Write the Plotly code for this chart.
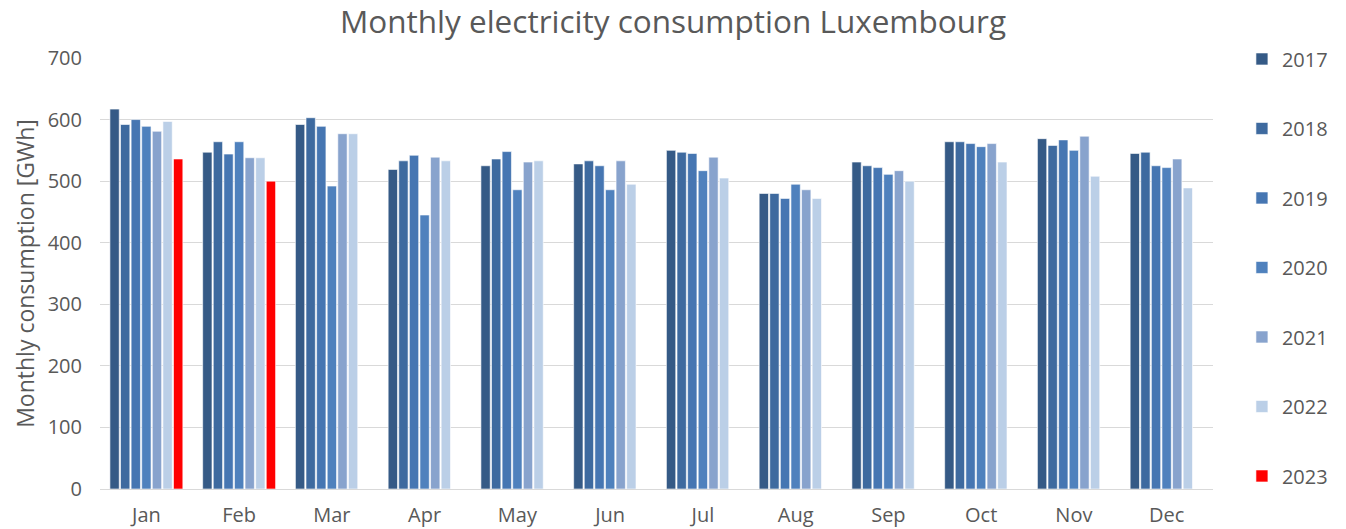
import plotly.graph_objects as go

months = ["Jan", "Feb", "Mar", "Apr", "May", "Jun", "Jul", "Aug", "Sep", "Oct", "Nov", "Dec"]
years = ["2017", "2018", "2019", "2020", "2021", "2022", "2023"]

v2017 = [617, 547, 592, 519, 525, 528, 550, 480, 531, 564, 569, 545]
v2018 = [592, 564, 603, 533, 536, 533, 547, 480, 525, 564, 558, 547]
v2019 = [600, 544, 589, 542, 548, 525, 545, 472, 522, 561, 567, 525]
v2020 = [589, 564, 492, 445, 486, 486, 517, 495, 511, 556, 550, 522]
v2021 = [581, 538, 577, 539, 531, 533, 539, 486, 517, 561, 573, 536]
v2022 = [597, 538, 577, 533, 533, 495, 505, 472, 500, 531, 508, 489]
v2023 = [536, 500, None, None, None, None, None, None, None, None, None, None]

series = [v2017, v2018, v2019, v2020, v2021, v2022, v2023]
colors = ["#355A86", "#3E6A9F", "#4676B2", "#4F81BD", "#88A3CD", "#BBCFE7", "#FF0000"]

W, H = 1346, 529

fig = go.Figure()
for i, (yr, vals) in enumerate(zip(years, series)):
    fig.add_trace(go.Bar(
        x=months, y=vals, name=yr, legendgroup=yr,
        marker=dict(color=colors[i], line=dict(color="rgba(255,255,255,0.6)", width=1)),
    ))

fig.update_layout(
    width=W, height=H,
    barmode="group", bargap=0.2, bargroupgap=0.12,
    plot_bgcolor="white", paper_bgcolor="white",
    font=dict(family="Open Sans, sans-serif", color="#595959", size=20),
    margin=dict(l=100, r=133, t=58, b=40, autoexpand=False),
    title=dict(text="Monthly electricity consumption Luxembourg", x=0.5, xref="container",
               xanchor="center", y=1 - 22 / H, yref="container", yanchor="middle",
               font=dict(size=31.5, color="#595959")),
    legend=dict(x=1.026, y=1.043, xanchor="left", yanchor="top", tracegroupgap=40.5,
                font=dict(size=20, color="#595959"), itemwidth=30, maxheight=520),
    showlegend=True,
)
fig.update_xaxes(showgrid=False, showline=False, ticks="outside", ticklen=8,
                 tickcolor="rgba(0,0,0,0)", tickfont=dict(size=20))
fig.update_yaxes(range=[0, 700], dtick=100, showgrid=True, gridcolor="#D9D9D9", gridwidth=1,
                 zeroline=True, zerolinecolor="#D9D9D9", zerolinewidth=1,
                 ticklabelstandoff=17, tickfont=dict(size=20),
                 title=dict(text="Monthly consumption [GWh]", font=dict(size=23), standoff=6))

fig.write_html("out.html", config={"displayModeBar": False},
               post_script="document.body.style.margin='0';")
